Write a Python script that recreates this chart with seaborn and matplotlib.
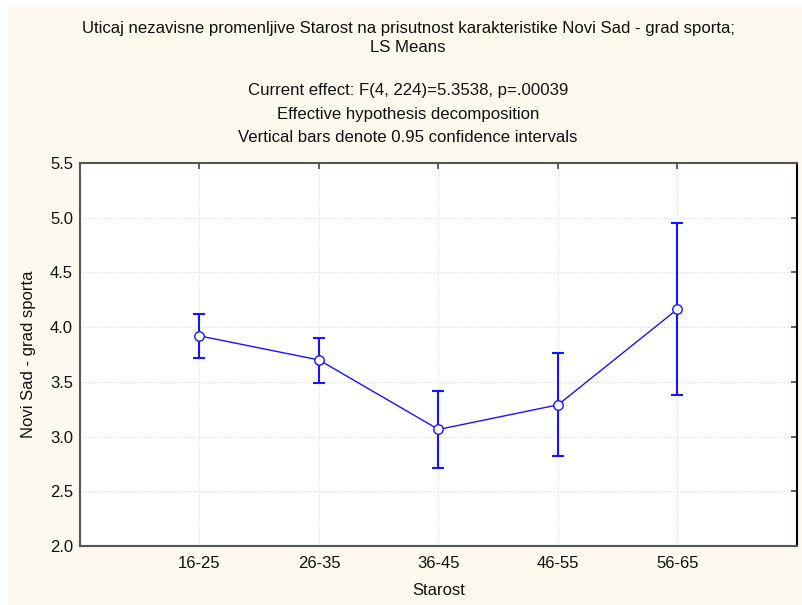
import matplotlib
matplotlib.use("Agg")
import matplotlib.pyplot as plt
import matplotlib.patches as mpatches
import seaborn as sns
import pandas as pd

# LS means of "Novi Sad - grad sporta" by age group, with 95% confidence limits
age_groups = ["16-25", "26-35", "36-45", "46-55", "56-65"]
ls_means = [3.92, 3.70, 3.065, 3.29, 4.165]
ci_lower = [3.715, 3.487, 2.711, 2.824, 3.376]
ci_upper = [4.121, 3.902, 3.419, 3.761, 4.951]
y_ticks = [2.0, 2.5, 3.0, 3.5, 4.0, 4.5, 5.0, 5.5]

title_lines = [
    "Uticaj nezavisne promenljive Starost na prisutnost karakteristike Novi Sad - grad sporta;",
    "LS Means",
    "Current effect: F(4, 224)=5.3538, p=.00039",
    "Effective hypothesis decomposition",
    "Vertical bars denote 0.95 confidence intervals",
]

sns.set_theme(style="white")
plt.rcParams["font.family"] = ["Liberation Sans", "DejaVu Sans"]

W, H = 803, 605
fig = plt.figure(figsize=(W / 100, H / 100), dpi=100, facecolor="white")

# cream panel behind the whole graph
fig.patches.append(mpatches.Rectangle((7 / W, -0.01), 1.0, 1.01 - 7 / H,
                                      transform=fig.transFigure,
                                      facecolor="#FEF9EE", edgecolor="none",
                                      zorder=-10))

ax = fig.add_axes([80 / W, 1 - 546 / H, 717 / W, 383 / H])
ax.set_facecolor("white")

df = pd.DataFrame({"pos": range(len(age_groups)), "mean": ls_means,
                   "lo": ci_lower, "hi": ci_upper})

blue = "#1414FF"
ax.errorbar(df["pos"], df["mean"],
            yerr=[df["mean"] - df["lo"], df["hi"] - df["mean"]],
            fmt="none", ecolor=blue, elinewidth=1.5, capsize=4,
            capthick=1.5, zorder=3)
sns.lineplot(data=df, x="pos", y="mean", ax=ax, color=blue, linewidth=1.0,
             marker="o", markersize=6.8, markerfacecolor="white",
             markeredgecolor=blue, markeredgewidth=1.0, zorder=4)

ax.set_xlim(-1, 5)
ax.set_ylim(2.0, 5.5)
ax.set_xticks(range(len(age_groups)))
ax.set_xticklabels(age_groups)
ax.set_yticks(y_ticks)
ax.set_yticklabels([f"{v:.1f}" for v in y_ticks])

ax.grid(True, color="#E2E2E2", linestyle=(0, (1.5, 1.5)), linewidth=0.8)
ax.set_axisbelow(True)

for side in ["left", "bottom", "top"]:
    ax.spines[side].set_color("#555555")
    ax.spines[side].set_linewidth(1.5)
ax.spines["right"].set_color("black")
ax.spines["right"].set_linewidth(1.5)

ax.tick_params(axis="both", which="both", direction="in", length=4,
               width=1.2, color="#444444", top=True, right=True,
               labelsize=12, labelcolor="#111111", pad=7)
ax.tick_params(axis="y", pad=5)

ax.set_xlabel("Starost", fontsize=12, color="#111111", labelpad=9)
ax.set_ylabel("Novi Sad - grad sporta", fontsize=12, color="#111111",
              labelpad=10)

cx = 408 / W
ys = [28, 48, 91, 114, 137]
for line, yy in zip(title_lines, ys):
    fig.text(cx, 1 - yy / H, line, ha="center", va="center",
             fontsize=12.1, color="#111111")

fig.savefig("out.png", dpi=100, facecolor=fig.get_facecolor())
